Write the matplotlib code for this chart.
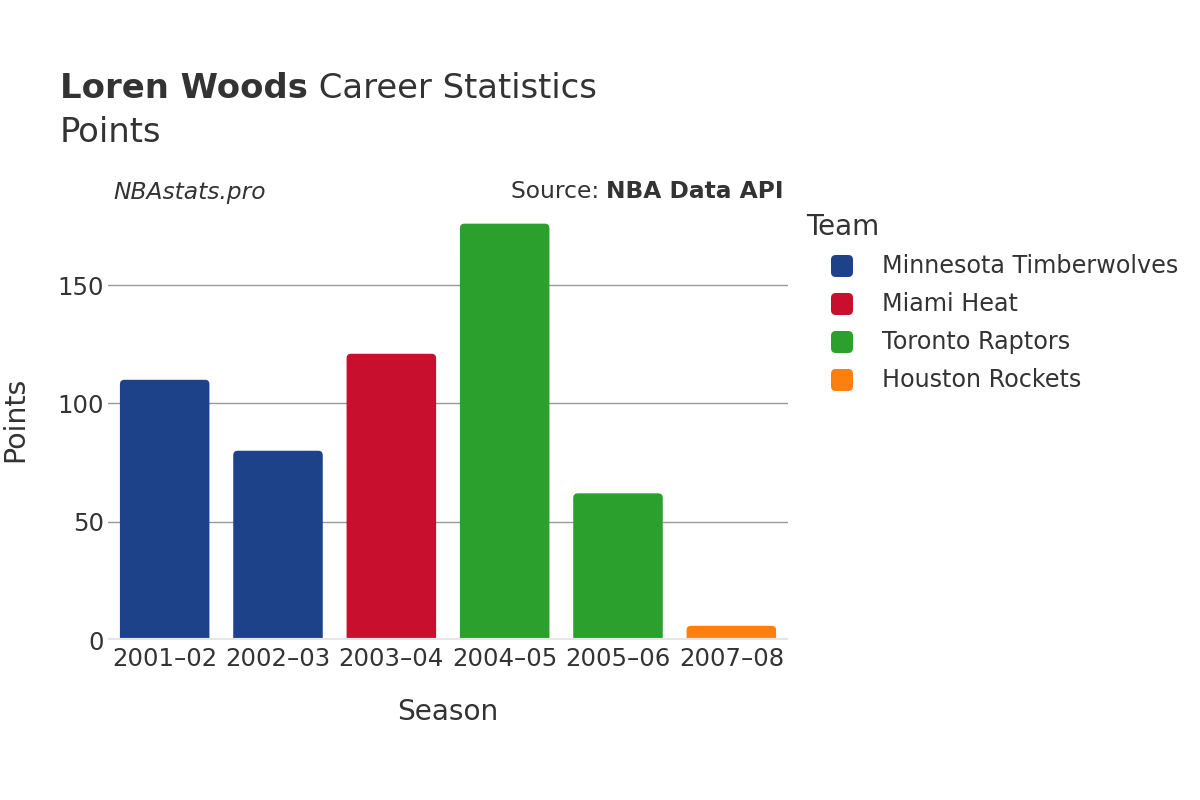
import matplotlib
matplotlib.use("Agg")
import matplotlib.pyplot as plt
from matplotlib.patches import FancyBboxPatch

seasons = ["2001–02", "2002–03", "2003–04", "2004–05", "2005–06", "2007–08"]
points = [110, 80, 121, 176, 62, 6]
teams = ["Minnesota Timberwolves", "Minnesota Timberwolves", "Miami Heat",
         "Toronto Raptors", "Toronto Raptors", "Houston Rockets"]
team_order = ["Minnesota Timberwolves", "Miami Heat", "Toronto Raptors", "Houston Rockets"]
team_colors = {"Minnesota Timberwolves": "#1d428a", "Miami Heat": "#c8102e",
               "Toronto Raptors": "#2ca02c", "Houston Rockets": "#fd7f0e"}

plt.rcParams['font.family'] = ['DejaVu Sans']
TXT = "#333333"
W, H = 1200, 800
fig = plt.figure(figsize=(12, 8), dpi=100)
ax_l, ax_r, ax_t, ax_b = 108, 788, 200, 640
ymax = 186
ax = fig.add_axes([ax_l / W, 1 - ax_b / H, (ax_r - ax_l) / W, (ax_b - ax_t) / H])
ax.set_xlim(-0.5, len(seasons) - 0.5)
ax.set_ylim(0, ymax)

bars = ax.bar(range(len(seasons)), points, width=0.79,
              color=[team_colors[t] for t in teams])
aspect = (ymax / (ax_b - ax_t)) / (len(seasons) / (ax_r - ax_l))
for b in bars:
    x, w, h = b.get_x(), b.get_width(), b.get_height()
    c = b.get_facecolor()
    b.set_visible(False)
    r = 3.0
    p = FancyBboxPatch((x, -r), w, h + r, boxstyle="round,pad=0,rounding_size=0.04",
                       mutation_aspect=aspect, facecolor=c, edgecolor="none", clip_on=True)
    ax.add_patch(p)

ax.set_yticks([0, 50, 100, 150])
ax.grid(axis="y", color="#999999", linewidth=1)
ax.set_axisbelow(True)
ax.axhline(0, color="#e6e6e6", linewidth=3, zorder=5)
for s in ax.spines.values():
    s.set_visible(False)
ax.tick_params(axis="both", length=0, labelsize=17.6, labelcolor=TXT)
ax.tick_params(axis="x", pad=5)
ax.tick_params(axis="y", pad=3)
ax.set_xticks(range(len(seasons)))
ax.set_xticklabels(seasons)

t1 = fig.text(60 / W, 1 - 88 / H, "Loren Woods", fontsize=24.4, fontweight="bold",
              color=TXT, va="center", ha="left")
fig.canvas.draw()
bb = t1.get_window_extent()
fig.text(bb.x1 / W, 1 - 88 / H, " Career Statistics", fontsize=24.4, color=TXT,
         va="center", ha="left")
fig.text(60 / W, 1 - 132 / H, "Points", fontsize=24.4, color=TXT, va="center", ha="left")

fig.text(113 / W, 1 - 192 / H, "NBAstats.pro", fontsize=16.8, style="italic", color=TXT,
         va="center", ha="left")
s2 = fig.text(784 / W, 1 - 192 / H, "NBA Data API", fontsize=16.8, fontweight="bold",
              color=TXT, va="center", ha="right")
fig.canvas.draw()
bb2 = s2.get_window_extent()
fig.text(bb2.x0 / W, 1 - 192 / H, "Source: ", fontsize=16.8, color=TXT, va="center", ha="right")

fig.text(15 / W, 1 - 419 / H, "Points", fontsize=20.5, color=TXT, rotation=90, va="center", ha="center")
fig.text(448 / W, 1 - 712 / H, "Season", fontsize=20.2, color=TXT, va="center", ha="center")

fig.text(806 / W, 1 - 227 / H, "Team", fontsize=20, color=TXT, va="center", ha="left")
for i, t in enumerate(team_order):
    y = 266 + 38 * i
    fig.patches.append(FancyBboxPatch((831 / W, 1 - (y + 11) / H), 22 / W, 22 / H,
                                      boxstyle="round,pad=0,rounding_size=0.004",
                                      mutation_aspect=1.5,
                                      transform=fig.transFigure, facecolor=team_colors[t],
                                      edgecolor="none", figure=fig))
    fig.text(882 / W, 1 - y / H, t, fontsize=17.2, color=TXT, va="center", ha="left")

fig.savefig("out.png", dpi=100, facecolor="white")
